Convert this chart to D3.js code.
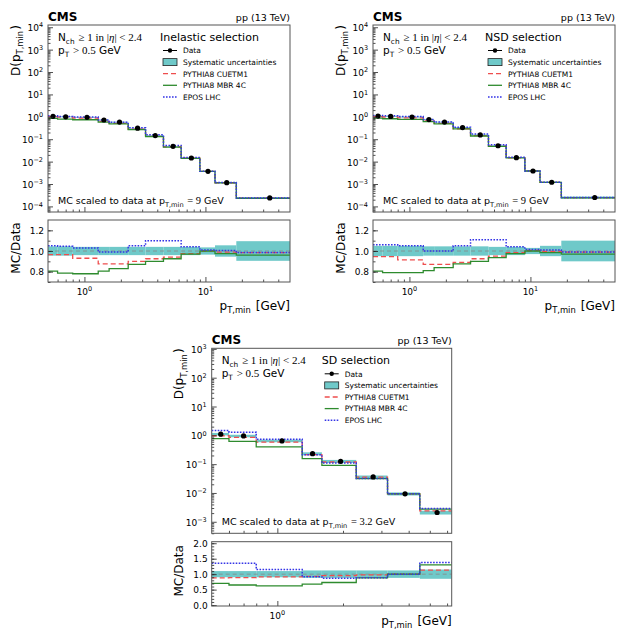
<!DOCTYPE html>
<html>
<head>
<meta charset="utf-8">
<script src="https://cdn.jsdelivr.net/npm/d3@7"></script>
<style>
body { margin: 0; background: #fff; }
text { font-family: "DejaVu Sans", sans-serif; fill: #000; }
</style>
</head>
<body>
<svg id="chart" width="620" height="630"></svg>
<script>
// bin edges in p_T,min [GeV]
var ptEdges = [0.5, 0.6, 0.8, 1.3, 1.6, 2.3, 3.2, 4.5, 6.3, 9, 12, 18, 50];
var ptEdgesSD = [0.5, 0.6, 0.8, 1.3, 1.6, 2.3, 3.2, 4.5, 6.3];

// inelastic selection: data, relative syst., MC/Data ratios
var inelData = [1.05, 1.0, 0.95, 0.72, 0.58, 0.31, 0.145, 0.048, 0.0145, 0.0037, 0.00115, 0.00024];
var inelSys = [0.045, 0.045, 0.04, 0.04, 0.04, 0.04, 0.04, 0.04, 0.04, 0.035, 0.055, 0.095];
var inelCUETM1 = [0.965, 0.965, 0.93, 0.875, 0.875, 0.90, 0.925, 0.94, 0.975, 1.0, 0.99, 0.985];
var inelMBR = [0.805, 0.785, 0.78, 0.805, 0.83, 0.87, 0.90, 0.925, 0.97, 1.0, 0.975, 0.96];
var inelEPOS = [1.05, 1.045, 1.03, 0.99, 0.99, 1.05, 1.10, 1.10, 1.04, 1.01, 1.005, 0.985];

// NSD selection
var nsdData = [1.08, 1.04, 0.98, 0.75, 0.58, 0.33, 0.155, 0.051, 0.015, 0.0038, 0.0012, 0.00025];
var nsdSys = [0.05, 0.05, 0.05, 0.045, 0.045, 0.045, 0.045, 0.04, 0.04, 0.03, 0.05, 0.1];
var nsdCUETM1 = [0.945, 0.945, 0.915, 0.87, 0.87, 0.89, 0.925, 0.95, 0.985, 1.005, 0.995, 0.99];
var nsdMBR = [0.805, 0.79, 0.79, 0.81, 0.84, 0.875, 0.90, 0.935, 0.975, 1.0, 0.985, 0.97];
var nsdEPOS = [1.06, 1.06, 1.05, 1.0, 1.0, 1.05, 1.11, 1.11, 1.04, 1.015, 1.01, 0.99];

// SD selection
var sdData = [1.1, 0.95, 0.64, 0.23, 0.125, 0.036, 0.0093, 0.0021];
var sdSys = [0.1, 0.1, 0.1, 0.12, 0.12, 0.12, 0.12, 0.15];
var sdCUETM1 = [0.88, 0.89, 0.91, 0.93, 0.95, 0.98, 1.0, 1.13];
var sdMBR = [0.70, 0.65, 0.62, 0.68, 0.73, 0.88, 1.0, 1.30];
var sdEPOS = [1.35, 1.35, 1.15, 0.92, 0.87, 0.88, 1.0, 1.38];

// tick labels
var yExpTop = [-4, -3, -2, -1, 0, 1, 2, 3, 4];
var yExpSD = [-3, -2, -1, 0, 1, 2, 3];
var ratioTicksTop = [0.8, 1.0, 1.2];
var ratioTicksSD = [0.0, 0.5, 1.0, 1.5, 2.0];
var xExp = [0, 1];
var legendNames = ["Data", "Systematic uncertainties", "PYTHIA8 CUETM1",
    "PYTHIA8 MBR 4C", "EPOS LHC"];

var colBand = "#6fc9c9", colRed = "#ee4d4d", colGreen = "#2e8b2e",
    colBlue = "#3535e6", colFrame = "#555";
var mathFont = "Liberation Serif";

var svg = d3.select("#chart");

// text with a superscript (10^n)
function powLabel(g, exp, x, y, anchor, fs) {
    var t = g.append("text").attr("x", x).attr("y", y)
        .attr("text-anchor", anchor).style("font-size", fs + "px");
    t.append("tspan").text("10");
    t.append("tspan").attr("dy", -fs * 0.42).style("font-size", (fs * 0.72) + "px")
        .text(exp < 0 ? "\u2212" + (-exp) : exp);
    return t;
}

// base letter with subscript
function subPart(t, base, sub, fs) {
    t.append("tspan").text(base);
    t.append("tspan").attr("dy", fs * 0.28).style("font-size", (fs * 0.7) + "px").text(sub);
    t.append("tspan").attr("dy", -fs * 0.28).text("\u200a");
}

function panel(c) {
    var g = svg.append("g");
    var n = c.data.length;
    var e = c.edges;
    var x = d3.scaleLog().domain([e[0], e[n]]).range([c.x0, c.x1]);
    var y = d3.scaleLog().domain(c.yDom).range([c.m1, c.m0]);
    var yr = d3.scaleLinear().domain(c.rDom).range([c.r1, c.r0]);
    var idx = d3.range(n);

    var clipM = "clipM" + c.id, clipR = "clipR" + c.id;
    g.append("clipPath").attr("id", clipM).append("rect")
        .attr("x", c.x0).attr("y", c.m0).attr("width", c.x1 - c.x0).attr("height", c.m1 - c.m0);
    g.append("clipPath").attr("id", clipR).append("rect")
        .attr("x", c.x0).attr("y", c.r0).attr("width", c.x1 - c.x0).attr("height", c.r1 - c.r0);

    // step helpers: one point per edge
    function steps(vals) {
        var pts = idx.map(function (i) { return [e[i], vals[i]]; });
        pts.push([e[n], vals[n - 1]]);
        return pts;
    }
    var mainLine = d3.line().curve(d3.curveStepAfter)
        .x(function (d) { return x(d[0]); }).y(function (d) { return y(d[1]); });
    var ratioLine = d3.line().curve(d3.curveStepAfter)
        .x(function (d) { return x(d[0]); }).y(function (d) { return yr(d[1]); });

    var series = [
        { r: c.red, color: colRed, dash: "5,3", w: 1.3 },
        { r: c.green, color: colGreen, dash: null, w: 1.3 },
        { r: c.blue, color: colBlue, dash: "1.6,1.4", w: 1.5 }
    ];

    // ---- main panel
    var gm = g.append("g").attr("clip-path", "url(#" + clipM + ")");
    gm.selectAll("rect.band").data(idx).enter().append("rect")
        .attr("x", function (i) { return x(e[i]); })
        .attr("width", function (i) { return x(e[i + 1]) - x(e[i]); })
        .attr("y", function (i) { return y(c.data[i] * (1 + c.sys[i])); })
        .attr("height", function (i) {
            return y(c.data[i] * (1 - c.sys[i])) - y(c.data[i] * (1 + c.sys[i]));
        })
        .attr("fill", colBand);
    series.forEach(function (s) {
        var mc = idx.map(function (i) { return s.r[i] * c.data[i]; });
        gm.append("path").attr("d", mainLine(steps(mc)))
            .attr("fill", "none").attr("stroke", s.color)
            .attr("stroke-width", s.w).attr("stroke-dasharray", s.dash);
    });
    gm.selectAll("circle.pt").data(idx).enter().append("circle")
        .attr("cx", function (i) { return x((e[i] + e[i + 1]) / 2); })
        .attr("cy", function (i) { return y(c.data[i]); })
        .attr("r", 2.6).attr("fill", "#000");

    // ---- ratio panel
    var gr = g.append("g").attr("clip-path", "url(#" + clipR + ")");
    gr.selectAll("rect.band").data(idx).enter().append("rect")
        .attr("x", function (i) { return x(e[i]); })
        .attr("width", function (i) { return x(e[i + 1]) - x(e[i]); })
        .attr("y", function (i) { return yr(1 + c.sys[i]); })
        .attr("height", function (i) { return yr(1 - c.sys[i]) - yr(1 + c.sys[i]); })
        .attr("fill", colBand);
    gr.append("line").attr("x1", c.x0).attr("x2", c.x1)
        .attr("y1", yr(1)).attr("y2", yr(1))
        .attr("stroke", "#888").attr("stroke-width", 0.8).attr("stroke-dasharray", "4,3");
    series.forEach(function (s) {
        gr.append("path").attr("d", ratioLine(steps(s.r)))
            .attr("fill", "none").attr("stroke", s.color)
            .attr("stroke-width", s.w).attr("stroke-dasharray", s.dash);
    });

    // ---- ticks
    var xMinor = [];
    [-1, 0, 1].forEach(function (d) {
        for (var k = 2; k <= 9; k++) {
            var v = k * Math.pow(10, d);
            if (v > e[0] && v < e[n]) xMinor.push(v);
        }
    });
    var xMajor = xExp.map(function (p) { return Math.pow(10, p); })
        .filter(function (v) { return v >= e[0] && v <= e[n]; });

    function tickStyle(sel) {
        sel.select(".domain").remove();
        sel.selectAll("line").attr("stroke", "#222").attr("stroke-width", 0.8);
    }
    [c.m1, c.r1].forEach(function (yy) {
        g.append("g").attr("transform", "translate(0," + yy + ")")
            .call(d3.axisBottom(x).tickValues(xMajor).tickSizeInner(-5).tickSizeOuter(0).tickFormat(""))
            .call(tickStyle);
        g.append("g").attr("transform", "translate(0," + yy + ")")
            .call(d3.axisBottom(x).tickValues(xMinor).tickSizeInner(-2.5).tickSizeOuter(0).tickFormat(""))
            .call(tickStyle);
    });
    var yMajor = c.yExp.map(function (p) { return Math.pow(10, p); });
    var yMinor = [];
    c.yExp.concat([c.yExp[0] - 1]).forEach(function (d) {
        for (var k = 2; k <= 9; k++) {
            var v = k * Math.pow(10, d);
            if (v > c.yDom[0] && v < c.yDom[1]) yMinor.push(v);
        }
    });
    g.append("g").attr("transform", "translate(" + c.x0 + ",0)")
        .call(d3.axisLeft(y).tickValues(yMajor).tickSizeInner(-5).tickSizeOuter(0).tickFormat(""))
        .call(tickStyle);
    g.append("g").attr("transform", "translate(" + c.x0 + ",0)")
        .call(d3.axisLeft(y).tickValues(yMinor).tickSizeInner(-2.5).tickSizeOuter(0).tickFormat(""))
        .call(tickStyle);
    g.append("g").attr("transform", "translate(" + c.x0 + ",0)")
        .call(d3.axisLeft(yr).tickValues(c.rTicks).tickSizeInner(-5).tickSizeOuter(0).tickFormat(""))
        .call(tickStyle);
    g.append("g").attr("transform", "translate(" + c.x0 + ",0)")
        .call(d3.axisLeft(yr).tickValues(d3.range(Math.ceil(c.rDom[0] / c.rMinor) * c.rMinor, c.rDom[1], c.rMinor))
            .tickSizeInner(-2.5).tickSizeOuter(0).tickFormat(""))
        .call(tickStyle);

    // frames
    [[c.m0, c.m1], [c.r0, c.r1]].forEach(function (f) {
        g.append("rect").attr("x", c.x0).attr("y", f[0])
            .attr("width", c.x1 - c.x0).attr("height", f[1] - f[0])
            .attr("fill", "none").attr("stroke", colFrame).attr("stroke-width", 1);
    });

    // tick labels
    c.yExp.forEach(function (p) {
        powLabel(g, p, c.x0 - 5, y(Math.pow(10, p)) + 4, "end", 9);
    });
    c.rTicks.forEach(function (v) {
        g.append("text").attr("x", c.x0 - 4).attr("y", yr(v) + 3.5)
            .attr("text-anchor", "end").style("font-size", "9px").text(v.toFixed(1));
    });
    xMajor.forEach(function (v) {
        powLabel(g, Math.round(Math.log10(v)), x(v), c.r1 + 13, "middle", 9);
    });

    // axis titles
    var yl = g.append("text").attr("text-anchor", "end").style("font-size", "12px")
        .attr("transform", "translate(" + (c.x0 - 28.5) + "," + c.m0 + ") rotate(-90)");
    subPart(yl, "D(p", "T,min", 12);
    yl.append("tspan").text(")");
    g.append("text").attr("text-anchor", "middle").style("font-size", "12px")
        .attr("transform", "translate(" + (c.x0 - 28.5) + "," + ((c.r0 + c.r1) / 2 - 3) + ") rotate(-90)")
        .text("MC/Data");
    var xl = g.append("text").attr("x", c.x1).attr("y", c.xlabY)
        .attr("text-anchor", "end").style("font-size", "12px");
    subPart(xl, "p", "T,min", 12);
    xl.append("tspan").text(" [GeV]");

    // header
    g.append("text").attr("x", c.x0).attr("y", c.m0 - 4)
        .style("font-size", "12px").style("font-weight", "bold").text("CMS");
    g.append("text").attr("x", c.x1).attr("y", c.m0 - 4).attr("text-anchor", "end")
        .style("font-size", "9.5px").text("pp (13 TeV)");

    // selection cuts
    var t1 = g.append("text").attr("x", c.x0 + 10).attr("y", c.m0 + 16).style("font-size", "10.5px");
    subPart(t1, "N", "ch", 10.5);
    t1.append("tspan").style("font-family", mathFont).style("font-size", "11px").text(" \u2265 1 in |");
    t1.append("tspan").style("font-family", mathFont).style("font-size", "11px")
        .style("font-style", "italic").text("\u03b7");
    t1.append("tspan").style("font-family", mathFont).style("font-size", "11px").text("| < 2.4");
    var t2 = g.append("text").attr("x", c.x0 + 10).attr("y", c.m0 + 29).style("font-size", "10.5px");
    subPart(t2, "p", "T", 10.5);
    t2.append("tspan").style("font-family", mathFont).style("font-size", "11px").text(" > 0.5");
    t2.append("tspan").text(" GeV");

    var t3 = g.append("text").attr("x", c.x0 + 10).attr("y", c.m1 - 8).style("font-size", "9.5px");
    subPart(t3, "MC scaled to data at p", "T,min", 9.5);
    t3.append("tspan").style("font-family", mathFont).style("font-size", "10.5px").text(" = " + c.scaleAt);
    t3.append("tspan").text(" GeV");

    // legend
    var lx = c.x1 - 120;
    g.append("text").attr("x", c.x1 - 130).attr("y", c.m0 + 16)
        .style("font-size", "11px").text(c.title);
    legendNames.forEach(function (name, k) {
        var ly = c.m0 + 25.5 + k * 11.6;
        if (k === 0) {
            g.append("line").attr("x1", lx - 7).attr("x2", lx + 7).attr("y1", ly).attr("y2", ly)
                .attr("stroke", "#000").attr("stroke-width", 1);
            g.append("circle").attr("cx", lx).attr("cy", ly).attr("r", 2.2).attr("fill", "#000");
        } else if (k === 1) {
            g.append("rect").attr("x", lx - 7).attr("y", ly - 3.5).attr("width", 14).attr("height", 7)
                .attr("fill", colBand).attr("stroke", "#222").attr("stroke-width", 0.8);
        } else {
            var s = series[k - 2];
            g.append("line").attr("x1", lx - 7).attr("x2", lx + 7).attr("y1", ly).attr("y2", ly)
                .attr("stroke", s.color).attr("stroke-width", s.w).attr("stroke-dasharray", s.dash);
        }
        g.append("text").attr("x", c.x1 - 107).attr("y", ly + 2.8)
            .style("font-size", "7.5px").text(name);
    });
}

var topYDom = [Math.pow(10, -4.25), Math.pow(10, 4.1)];

panel({ id: "a", x0: 48, x1: 290, m0: 25, m1: 212, r0: 220, r1: 282, xlabY: 310,
    edges: ptEdges, yDom: topYDom, yExp: yExpTop, rDom: [0.7, 1.3], rTicks: ratioTicksTop, rMinor: 0.1,
    data: inelData, sys: inelSys, red: inelCUETM1, green: inelMBR, blue: inelEPOS,
    title: "Inelastic selection", scaleAt: "9" });

panel({ id: "b", x0: 373, x1: 615, m0: 25, m1: 212, r0: 220, r1: 282, xlabY: 310,
    edges: ptEdges, yDom: topYDom, yExp: yExpTop, rDom: [0.7, 1.3], rTicks: ratioTicksTop, rMinor: 0.1,
    data: nsdData, sys: nsdSys, red: nsdCUETM1, green: nsdMBR, blue: nsdEPOS,
    title: "NSD selection", scaleAt: "9" });

panel({ id: "c", x0: 211.7, x1: 451.7, m0: 348.3, m1: 533.3, r0: 541.7, r1: 606, xlabY: 625,
    edges: ptEdgesSD, yDom: [Math.pow(10, -3.4), Math.pow(10, 3.02)], yExp: yExpSD,
    rDom: [-0.03, 2.05], rTicks: ratioTicksSD, rMinor: 0.1,
    data: sdData, sys: sdSys, red: sdCUETM1, green: sdMBR, blue: sdEPOS,
    title: "SD selection", scaleAt: "3.2" });
</script>
</body>
</html>
